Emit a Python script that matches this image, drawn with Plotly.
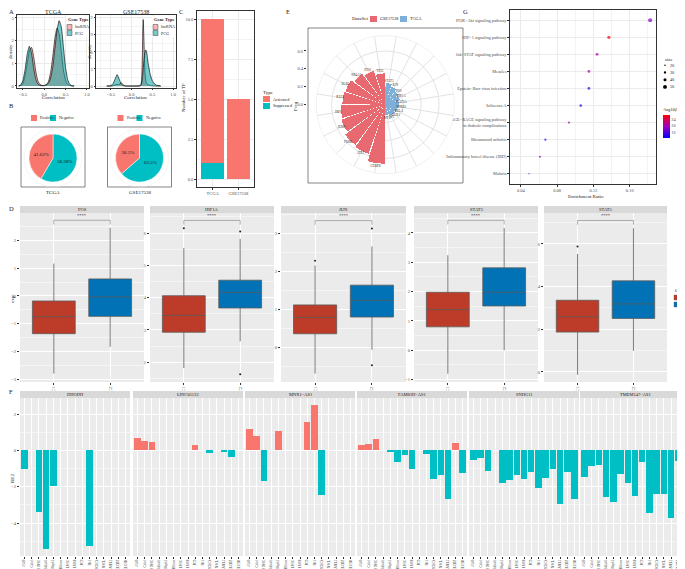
import plotly.graph_objects as go

W, H = 685, 569
FONT = "Liberation Serif"
TXT = "#1a1a1a"
TICK = "#4d4d4d"
RED, TEAL = "#F8766D", "#00BFC4"

# ===== Panel A: density of correlation =====
a_x_tcga = [-0.60, -0.55, -0.50, -0.45, -0.40, -0.35, -0.30, -0.25, -0.20, -0.15, -0.10, -0.05, 0.00,
            0.05, 0.10, 0.15, 0.20, 0.25, 0.30, 0.35, 0.40, 0.45, 0.50, 0.55, 0.60, 0.65, 0.70]
a_pcg_tcga = [0.00, 0.05, 0.25, 0.72, 1.40, 1.75, 1.45, 0.80, 0.30, 0.08, 0.02, 0.01, 0.02,
              0.05, 0.12, 0.35, 0.85, 1.65, 2.45, 2.88, 2.60, 1.70, 0.80, 0.28, 0.07, 0.01, 0.00]
a_lnc_tcga = [0.00, 0.02, 0.12, 0.45, 1.00, 1.55, 1.70, 1.30, 0.65, 0.22, 0.06, 0.02, 0.02,
              0.06, 0.20, 0.60, 1.30, 2.10, 2.55, 2.30, 1.50, 0.70, 0.25, 0.07, 0.02, 0.00, 0.00]
a_x_gse = [-0.60, -0.50, -0.45, -0.40, -0.35, -0.30, -0.25, -0.20, -0.15, -0.10, 0.00, 0.10, 0.20, 0.22,
           0.24, 0.26, 0.27, 0.28, 0.30, 0.32, 0.34, 0.36, 0.38, 0.40, 0.45, 0.50, 0.55, 0.60, 0.70]
a_pcg_gse = [0, 0.05, 0.4, 1.2, 2.0, 1.2, 0.35, 0.05, 0, 0, 0, 0, 0.05, 0.15,
             0.5, 1.5, 2.3, 3.2, 4.8, 5.9, 6.35, 6.0, 5.0, 3.9, 2.0, 0.9, 0.4, 0.15, 0]
a_lnc_gse = [0, 0, 0.05, 0.2, 0.3, 0.3, 0.55, 0.2, 0.02, 0, 0, 0, 0.02, 0.1,
             0.9, 5.5, 10.0, 11.7, 7.0, 2.5, 1.0, 0.5, 0.3, 0.2, 0.1, 0.05, 0.02, 0, 0]
a_titles = ["TCGA", "GSE17538"]
gene_types = ["lncRNA", "PCG"]

# ===== Panel B: pies =====
pie_groups = ["Positive", "Negative"]
pie_tcga = [41.62, 58.38]
pie_tcga_lab = ["41.62%", "58.38%"]
pie_gse = [36.5, 63.5]
pie_gse_lab = ["36.5%", "63.5%"]

# ===== Panel C: TF counts =====
c_datasets = ["TCGA", "GSE17538"]
c_activated = [9, 5]
c_suppressed = [1, 0]
c_types = ["Activated", "Suppressed"]

# ===== Panel E: polar bars =====
e_tcga_tf = ["STAT3", "JUN", "FOS", "HIF1A", "STAT5A", "NFKB1", "RELA", "EGR1", "SP1", "MYC"]
e_tcga_freq = [0.24, 0.21, 0.18, 0.17, 0.15, 0.15, 0.14, 0.14, 0.13, 0.12]
e_gse_tf = ["CEBPB", "ATF3", "FOSB", "JUNB", "IRF1", "KLF4", "EGR2", "NR4A1", "ETS1", "TP53"]
e_gse_freq = [0.66, 0.58, 0.56, 0.52, 0.50, 0.48, 0.47, 0.43, 0.40, 0.35]
e_sets = ["GSE17538", "TCGA"]

# ===== Panel G: KEGG dot plot =====
g_pathways = ["PI3K−Akt signaling pathway", "HIF−1 signaling pathway", "Jak−STAT signaling pathway",
              "Measles", "Epstein−Barr virus infection", "Influenza A",
              "AGE−RAGE signaling pathway<br>in diabetic complications", "Rheumatoid arthritis",
              "Inflammatory bowel disease (IBD)", "Malaria"]
g_ratio = [0.1825, 0.137, 0.124, 0.115, 0.115, 0.106, 0.093, 0.067, 0.061, 0.049]
g_size = [52, 42, 38, 36, 36, 35, 30, 28, 26, 18]
g_fdr = [18.5, 26.0, 21.0, 20.5, 15.0, 15.5, 20.0, 13.0, 18.0, 18.0]
g_size_legend = [20, 30, 40, 50]

# ===== Panel D: boxplots =====
d_genes = ["FOS", "HIF1A", "JUN", "STAT3", "STAT5"]
d_clusters = ["C1", "C2"]
d_c1_low = [-2.78, 1.82, -0.70, -0.80, -0.13]
d_c1_q1 = [-1.35, 2.93, 0.35, 0.80, 1.87]
d_c1_med = [-0.74, 3.45, 0.78, 1.39, 2.59]
d_c1_q3 = [-0.18, 4.06, 1.11, 1.98, 3.36]
d_c1_high = [1.16, 5.54, 2.15, 3.24, 5.53]
d_c2_low = [-1.82, 2.65, -0.07, 0.00, 0.99]
d_c2_q1 = [-0.73, 3.68, 0.79, 1.51, 2.51]
d_c2_med = [-0.03, 4.16, 1.23, 1.98, 3.19]
d_c2_q3 = [0.61, 4.54, 1.63, 2.81, 4.27]
d_c2_high = [2.44, 5.82, 2.65, 4.17, 6.74]
d_c1_out = [[], [6.15], [2.27], [], [5.88]]
d_c2_out = [[], [6.05, 1.63], [3.12, -0.48], [], []]
d_bracket = [2.71, 6.39, 3.33, 4.43, 7.10]
d_sig = "****"

# ===== Panel F: bars =====
f_lnc = ["DHODH", "LINC01133", "MNX1−AS1", "FAM83H−AS1", "SNHG11", "TMEM147−AS1"]
f_cells = ["A549", "Calu3", "H1NSC", "HuLu43", "Hop62", "H1base", "LUSC", "LMS8", "PC9",
           "SK1", "SCLCb", "NSCL", "SKMEL2", "SCLCDZ", "SCLCSH"]
f_vals = [
    [-1.02, 0, -3.40, -5.40, -1.95, 0, 0, 0, 0, -5.25, 0, 0, 0, 0, 0],
    [0.69, 0.51, 0.44, 0, 0, 0, 0, 0, 0.31, 0, -0.16, 0, -0.07, -0.35, 0],
    [1.17, 0.77, -1.69, 0, 1.04, 0, 0, 0, 1.55, 2.50, -2.48, 0, 0, 0, 0],
    [0.27, 0.37, 0.64, 0, -0.05, -0.63, -0.23, -1.04, 0, -0.22, -1.55, -1.38, -2.66, 0.38, -1.26],
    [-0.53, -0.42, -1.15, 0, -1.80, -1.62, -1.38, -1.56, -1.20, -2.06, -1.51, -1.05, -2.95, -1.20, -2.69],
    [-1.44, -0.85, -0.78, -2.57, -2.84, -1.31, -1.80, -2.51, -0.63, -3.46, -2.38, -2.40, -3.72, -0.60, -3.22],
]

# ---------------------------------------------------------------------------
fig = go.Figure()
layout = dict(width=W, height=H, margin=dict(l=0, r=0, t=0, b=0), autosize=False,
              paper_bgcolor="white", plot_bgcolor="white", showlegend=False, hovermode=False,
              barmode="stack", boxmode="overlay", font=dict(family=FONT, size=5, color=TXT))
anns, shapes = [], []


def PX(a, b):
    return [a / W, b / W]


def PY(top, bottom):
    return [1 - bottom / H, 1 - top / H]


def text(x, y, s, size=5, xa="center", ya="middle", angle=0, color=TXT):
    anns.append(dict(x=x / W, y=1 - y / H, xref="paper", yref="paper", text=s, showarrow=False,
                     font=dict(family=FONT, size=size, color=color), xanchor=xa, yanchor=ya,
                     textangle=angle, borderpad=0))


def rect(x0, y0, x1, y1, fill=None, line=None, lw=0.6, layer="above"):
    shapes.append(dict(type="rect", xref="paper", yref="paper", x0=x0 / W, x1=x1 / W,
                       y0=1 - y1 / H, y1=1 - y0 / H, fillcolor=fill or "rgba(0,0,0,0)",
                       line=dict(color=line or "rgba(0,0,0,0)", width=lw if line else 0), layer=layer))


def refs(n):
    return ("x", "y") if n == 1 else (f"x{n}", f"y{n}")


def keys(n):
    return ("xaxis", "yaxis") if n == 1 else (f"xaxis{n}", f"yaxis{n}")


def tickfont(size=4.5):
    return dict(family=FONT, size=size, color=TICK)


def bw(**kw):
    d = dict(showgrid=True, gridcolor="#EBEBEB", gridwidth=0.5, zeroline=False, showline=True, mirror=True,
             linecolor="#333333", linewidth=0.6, ticks="outside", ticklen=2, tickwidth=0.5,
             tickcolor="#333333", tickfont=tickfont())
    d.update(kw)
    return d


def gray(**kw):
    d = dict(showgrid=True, gridcolor="white", gridwidth=0.6, zeroline=False, showline=False,
             ticks="outside", ticklen=2, tickwidth=0.5, tickcolor="#333333", tickfont=tickfont())
    d.update(kw)
    return d


def add_axes(n, xdom, ydom, xc, yc):
    xk, yk = keys(n)
    xr, yr = refs(n)
    layout[xk] = dict(domain=xdom, anchor=yr, **xc)
    layout[yk] = dict(domain=ydom, anchor=xr, **yc)
    return xr, yr


# ----------------- Panel A -----------------
a_specs = [
    (1, PX(9, 81), [-0.64, 1.05], [-0.09, 3.13], 1, a_x_tcga, a_pcg_tcga, a_lnc_tcga, 45, 59),
    (2, PX(88, 168), [-0.86, 1.07], [-0.35, 12.5], 3, a_x_gse, a_pcg_gse, a_lnc_gse, 128, 145),
]
for i, (n, xd, xr_, yr_, ydt, xs, pcg, lnc, tx, lx) in enumerate(a_specs):
    minor = dict(showgrid=True, gridcolor="#F4F4F4", gridwidth=0.3)
    xa, ya = add_axes(n, xd, PY(7, 80),
                      bw(range=xr_, tick0=-0.5, dtick=0.5, tickformat=".1f", ticklen=1.5,
                         minor=dict(dtick=0.25, tick0=-0.5, **minor)),
                      bw(range=yr_, tick0=0, dtick=ydt, ticklen=1.5, minor=dict(dtick=ydt / 2, tick0=0, **minor)))
    fig.add_trace(go.Scatter(x=xs, y=lnc, xaxis=xa, yaxis=ya, mode="lines", fill="tozeroy",
                             fillcolor="rgba(248,118,109,0.55)", line=dict(color="#111", width=0.7,
                                                                        shape="spline", smoothing=0.5)))
    fig.add_trace(go.Scatter(x=xs, y=pcg, xaxis=xa, yaxis=ya, mode="lines", fill="tozeroy",
                             fillcolor="rgba(0,160,160,0.55)", line=dict(color="#111", width=0.7,
                                                                      shape="spline", smoothing=0.5)))
    text(tx, 3.5, a_titles[i], size=6)
    text((xd[0] + xd[1]) / 2 * W, 89.5, "Correlation", size=5)
    text(xd[0] * W - 7, 44, "density", size=5, angle=-90)
    rect(lx - 1, 8, lx + 22, 29, fill="white")
    text(lx, 12, "<b>Gene Type</b>", size=4.5, xa="left")
    for j, (g, col) in enumerate(zip(gene_types, ["rgba(248,118,109,0.55)", "rgba(0,160,160,0.55)"])):
        rect(lx, 16.5 + 6 * j, lx + 5, 21.5 + 6 * j, fill=col, line="#222", lw=0.4)
        text(lx + 7, 19 + 6 * j, g, size=4.2, xa="left")

# ----------------- Panel B -----------------
for (cx, vals, labs, title) in [(45, pie_tcga, pie_tcga_lab, "TCGA"), (131.5, pie_gse, pie_gse_lab, "GSE17538")]:
    r = 24
    fig.add_trace(go.Pie(values=vals[::-1], labels=pie_groups[::-1], text=labs[::-1], textinfo="text",
                         sort=False, direction="clockwise", rotation=0,
                         marker=dict(colors=[TEAL, RED], line=dict(color="white", width=0.5)),
                         textfont=dict(family=FONT, size=5, color=TXT), insidetextorientation="horizontal",
                         domain=dict(x=PX(cx - r, cx + r), y=PY(150 - r, 150 + r))))
    rect(cx - 32, 119, cx + 32, 179, line="#333333", lw=0.6)
    shapes.append(dict(type="circle", xref="paper", yref="paper", x0=(cx - 29) / W, x1=(cx + 29) / W,
                       y0=1 - (150 + 29) / H, y1=1 - (150 - 29) / H, line=dict(color="#EBEBEB", width=0.5)))
    text(cx, 184, title, size=5)
    lx0 = cx - 22
    for j, (g, col) in enumerate(zip(pie_groups, [RED, TEAL])):
        xx = lx0 + 19 * j
        rect(xx, 107, xx + 6, 113, fill=col)
        text(xx + 8, 110, g, size=4.2, xa="left")

# ----------------- Panel C -----------------
xa, ya = add_axes(3, PX(189, 246), PY(3, 179),
                  bw(type="category", categoryorder="array", categoryarray=c_datasets, range=[-0.6, 1.6]),
                  bw(range=[-0.5, 10.5], tick0=0, dtick=2.5, tickformat=".1f",
                     minor=dict(dtick=1.25, tick0=0, showgrid=True, gridcolor="#F4F4F4", gridwidth=0.3)))
fig.add_trace(go.Bar(x=c_datasets, y=c_suppressed, xaxis=xa, yaxis=ya, width=0.9, marker_color=TEAL,
                     marker_line_width=0))
fig.add_trace(go.Bar(x=c_datasets, y=c_activated, xaxis=xa, yaxis=ya, width=0.9, marker_color=RED,
                     marker_line_width=0))
text(176, 90, "Number of TF", size=5, angle=-90)
text(254, 84, "Type", size=5, xa="left")
for j, (t, col) in enumerate(zip(c_types, [RED, TEAL])):
    rect(255, 88 + 7 * j, 262, 94 + 7 * j, fill=col)
    text(264, 91 + 7 * j, t, size=4.2, xa="left")

# ----------------- Panel E -----------------
ecx, ecy, er = 377.3, 96.7, 69
layout["polar"] = dict(
    domain=dict(x=PX(ecx - er, ecx + er), y=PY(ecy - er, ecy + er)), bgcolor="white",
    radialaxis=dict(range=[0, 0.77], showticklabels=False, ticks="", showline=False,
                    gridcolor="#E3E3E3", gridwidth=0.5, tickvals=[0.2, 0.4, 0.6]),
    angularaxis=dict(type="category", categoryorder="array", categoryarray=e_tcga_tf + e_gse_tf,
                     direction="clockwise", rotation=81, showticklabels=False, ticks="",
                     gridcolor="#E3E3E3", gridwidth=0.5, linecolor="#E3E3E3", linewidth=0.5))
E_COL = {"GSE17538": "#E8696F", "TCGA": "#7EAFD8"}
fig.add_trace(go.Barpolar(r=e_tcga_freq, theta=e_tcga_tf, width=0.92, marker_color=E_COL["TCGA"],
                          marker_line_width=0))
fig.add_trace(go.Barpolar(r=e_gse_freq, theta=e_gse_tf, width=0.92, marker_color=E_COL["GSE17538"],
                          marker_line_width=0))
fig.add_trace(go.Scatterpolar(r=[v + 0.03 for v in e_tcga_freq + e_gse_freq], theta=e_tcga_tf + e_gse_tf,
                              mode="text", text=e_tcga_tf + e_gse_tf,
                              textfont=dict(family=FONT, size=3.2, color="#333")))
xa, ya = add_axes(4, PX(299, 300), PY(ecy - er, ecy + er),
                  dict(visible=False, range=[0, 1]),
                  dict(range=[-0.77, 0.77], tickvals=[0, 0.2, 0.4, 0.6], ticktext=["0.0", "0.2", "0.4", "0.6"],
                       showgrid=False, zeroline=False, showline=False, ticks="outside", ticklen=2, tickwidth=0.5,
                       tickcolor="#333", tickfont=tickfont()))
fig.add_trace(go.Scatter(x=[0.5], y=[0], xaxis=xa, yaxis=ya, mode="markers", marker=dict(opacity=0)))
rect(300, 20, 455, 175, line="#333333", lw=0.6)
text(288, 98, "Freq", size=5, angle=-90)
text(343, 11, "DataSet", size=5, xa="left")
for j, (s, xx) in enumerate(zip(e_sets, [362, 392])):
    rect(xx, 8, xx + 7, 14, fill=E_COL[s])
    text(xx + 9, 11, s, size=4.2, xa="left")

# ----------------- Panel G -----------------
xa, ya = add_axes(5, PX(502, 648), PY(2, 176),
                  bw(range=[0.028, 0.189], tick0=0.08, dtick=0.04, tickformat=".2f",
                     minor=dict(dtick=0.02, tick0=0.08, showgrid=True, gridcolor="#F4F4F4", gridwidth=0.3)),
                  bw(type="category", categoryorder="array", categoryarray=g_pathways[::-1], range=[-0.6, 9.6],
                     tickfont=tickfont(4.3)))
G_SCALE = 13.0
fig.add_trace(go.Scatter(x=g_ratio, y=g_pathways, xaxis=xa, yaxis=ya, mode="markers",
                         marker=dict(size=[s / G_SCALE for s in g_size], color=g_fdr,
                                     colorscale=[[0, "#0000FF"], [0.5, "#A000C0"], [1, "#FF0000"]],
                                     cmin=12.7, cmax=26.5, line=dict(width=0),
                                     colorbar=dict(x=655 / W, xanchor="left", y=1 - 113.5 / H, yanchor="middle",
                                                   len=33 / H, lenmode="fraction", thickness=7, outlinewidth=0,
                                                   tickvals=[16, 20, 24], ticks="", tickfont=tickfont(4.3),
                                                   xpad=0, ypad=0,
                                                   title=dict(text="-log10(FDR)", side="top",
                                                              font=dict(family=FONT, size=4.5, color=TXT))))))
text(578, 188.5, "Enrichment Ratio", size=5)
text(656, 51, "size", size=5, xa="left")
for j, s in enumerate(g_size_legend):
    yy = 57.3 + 7.2 * j
    rr = s / G_SCALE / 2
    shapes.append(dict(type="circle", xref="paper", yref="paper", x0=(657 - rr) / W, x1=(657 + rr) / W,
                       y0=1 - (yy + rr) / H, y1=1 - (yy - rr) / H, fillcolor="black", line=dict(width=0)))
    text(661, yy, str(s), size=4.2, xa="left")

# ----------------- Panel D -----------------
d_left = [12, 142, 273, 406, 536]
d_right = [136, 266, 398, 530, 659]
d_yrange = [[-3.08, 2.97], [1.39, 6.62], [-0.92, 3.53], [-1.08, 4.68], [-0.47, 7.45]]
d_dtick = [1, 1, 1, 1, 2]
C_COL = {"C1": "#BC3C29", "C2": "#0072B5"}
for i, g in enumerate(d_genes):
    n = 6 + i
    xa, ya = add_axes(n, PX(d_left[i], d_right[i]), PY(205, 374),
                      gray(type="category", categoryorder="array", categoryarray=d_clusters, range=[-0.6, 1.6],
                           tickangle=-90),
                      gray(range=d_yrange[i], tick0=0, dtick=d_dtick[i],
                           minor=dict(dtick=d_dtick[i] / 2, tick0=0, showgrid=True, gridcolor="#F5F5F5",
                                      gridwidth=0.3)))
    shapes.append(dict(type="rect", xref=f"{xa} domain", yref=f"{ya} domain", x0=0, x1=1, y0=0, y1=1,
                       fillcolor="#EBEBEB", line=dict(width=0), layer="below"))
    rect(d_left[i], 198, d_right[i], 205, fill="#D9D9D9")
    text((d_left[i] + d_right[i]) / 2, 201.5, g, size=4.5)
    stats = {"C1": (d_c1_low, d_c1_q1, d_c1_med, d_c1_q3, d_c1_high, d_c1_out),
             "C2": (d_c2_low, d_c2_q1, d_c2_med, d_c2_q3, d_c2_high, d_c2_out)}
    for c in d_clusters:
        lo, q1, md, q3, hi, out = stats[c]
        fig.add_trace(go.Box(x=[c], lowerfence=[lo[i]], q1=[q1[i]], median=[md[i]], q3=[q3[i]],
                             upperfence=[hi[i]], xaxis=xa, yaxis=ya, width=0.76, fillcolor=C_COL[c],
                             line=dict(color="#5a5a5a", width=0.8), boxpoints=False, whiskerwidth=0))
        if out[i]:
            fig.add_trace(go.Scatter(x=[c] * len(out[i]), y=out[i], xaxis=xa, yaxis=ya, mode="markers",
                                     marker=dict(size=2, color="#222")))
    b = d_bracket[i]
    dd = 0.025 * (d_yrange[i][1] - d_yrange[i][0])
    fig.add_trace(go.Scatter(x=["C1", "C1", "C2", "C2"], y=[b - dd, b, b, b - dd], xaxis=xa, yaxis=ya,
                             mode="lines", line=dict(color="#9a9a9a", width=0.8)))
    anns.append(dict(x=0.5, y=b, xref=xa, yref=ya, text=d_sig, showarrow=False, yanchor="bottom",
                     font=dict(family=FONT, size=4.5, color=TXT), yshift=0.5))
text(4, 290, "expr", size=5, angle=-90)
text(666, 282, "Cluster", size=5, xa="left")
for j, c in enumerate(d_clusters):
    yy = 287 + 7 * j
    rect(666, yy, 672, yy + 5, fill=C_COL[c], line="#5a5a5a", lw=0.4)
    text(675, yy + 2.5, c, size=4.2, xa="left")

# ----------------- Panel F -----------------
f_left = [12, 125, 237, 349, 461, 572]
for i, name in enumerate(f_lnc):
    n = 11 + i
    xa, ya = add_axes(n, PX(f_left[i], f_left[i] + 110), PY(390, 548),
                      gray(type="category", categoryorder="array", categoryarray=f_cells, range=[-0.6, 14.6],
                           tickangle=-90, tickfont=tickfont(3.2), ticklen=1.5),
                      gray(range=[-5.81, 2.88], tick0=0, dtick=2, showticklabels=(i == 0),
                           ticks="outside" if i == 0 else "",
                           minor=dict(dtick=1, tick0=0, showgrid=True, gridcolor="#F5F5F5", gridwidth=0.3)))
    shapes.append(dict(type="rect", xref=f"{xa} domain", yref=f"{ya} domain", x0=0, x1=1, y0=0, y1=1,
                       fillcolor="#EBEBEB", line=dict(width=0), layer="below"))
    rect(f_left[i], 383, f_left[i] + 110, 390, fill="#D9D9D9")
    text(f_left[i] + 55, 386.5, name, size=4.5)
    cols = [RED if v > 0 else TEAL for v in f_vals[i]]
    fig.add_trace(go.Bar(x=f_cells, y=f_vals[i], xaxis=xa, yaxis=ya, width=0.9, marker_color=cols,
                         marker_line_width=0))
text(4, 470, "RE2", size=5, angle=-90)

# ----------------- panel letters -----------------
for lab, x, y in [("A", 3, 4), ("B", 3, 98), ("C", 173, 4), ("D", 3, 200), ("E", 280, 4), ("G", 457, 4), ("F", 3, 383)]:
    text(x, y, lab, size=6.5)

layout["annotations"] = anns
layout["shapes"] = shapes
fig.update_layout(**layout)
fig.write_html("out.html")
